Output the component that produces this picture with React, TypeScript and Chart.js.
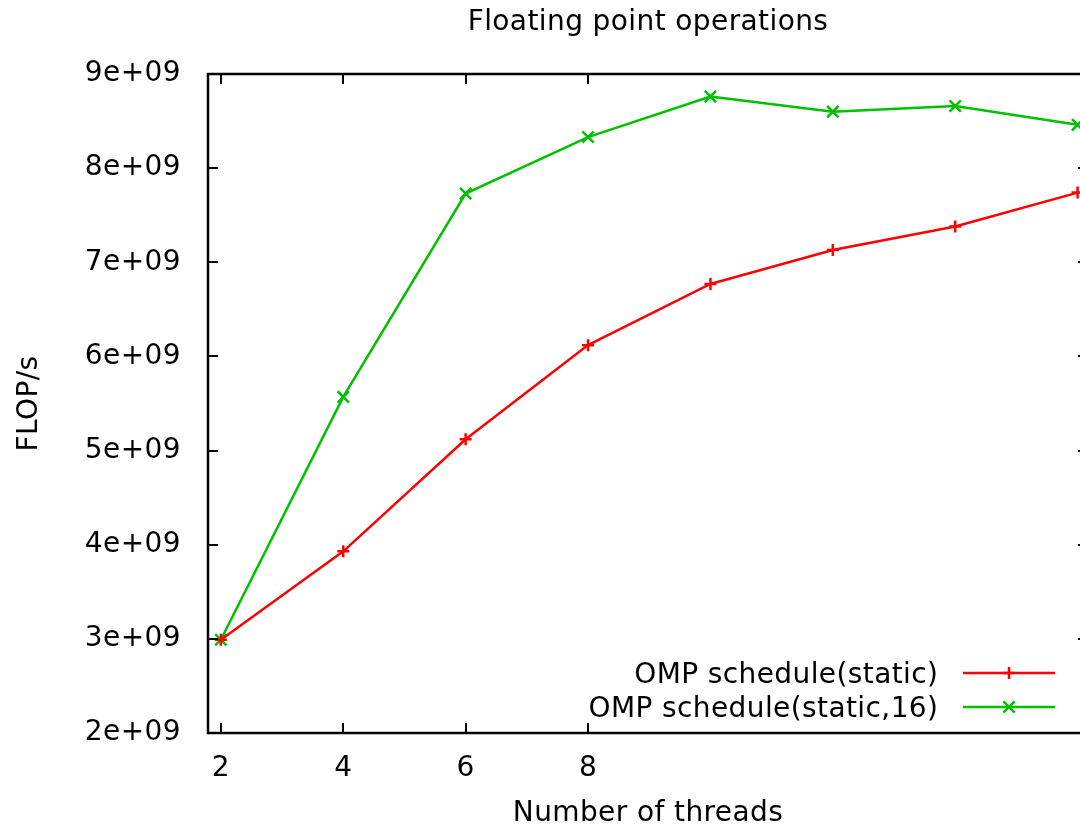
import React, { useEffect, useRef } from 'react';
import { Chart, registerables } from 'chart.js';

Chart.register(...registerables);

const threads = [2, 4, 6, 8, 10, 12, 14, 16];
const staticFlops = [2.99e9, 3.93e9, 5.12e9, 6.12e9, 6.77e9, 7.13e9, 7.38e9, 7.74e9];
const static16Flops = [2.99e9, 5.57e9, 7.73e9, 8.33e9, 8.76e9, 8.60e9, 8.66e9, 8.46e9];
const xTickValues = [2, 4, 6, 8];
const yTickValues = [2e9, 3e9, 4e9, 5e9, 6e9, 7e9, 8e9, 9e9];
const yTickLabels = ['2e+09', '3e+09', '4e+09', '5e+09', '6e+09', '7e+09', '8e+09', '9e+09'];
const seriesLabels = ['OMP schedule(static)', 'OMP schedule(static,16)'];
const seriesColors = ['#ff0000', '#00c000'];
const seriesPointStyles = ['cross', 'crossRot'];
const seriesPointRadius = [6, 8];

const FONT = '"DejaVu Sans", "Liberation Sans", sans-serif';
const FONT_SIZE = 28;
const SPACING = '0.4px';

const spacingPlugin = {
  id: 'spacing',
  beforeUpdate(chart: any) { chart.ctx.letterSpacing = SPACING; },
  beforeLayout(chart: any) { chart.ctx.letterSpacing = SPACING; },
  beforeDraw(chart: any) { chart.ctx.letterSpacing = SPACING; },
};

function drawMarker(ctx: CanvasRenderingContext2D, style: string, x: number, y: number, r: number) {
  ctx.beginPath();
  if (style === 'cross') {
    ctx.moveTo(x - r, y); ctx.lineTo(x + r, y);
    ctx.moveTo(x, y - r); ctx.lineTo(x, y + r);
  } else {
    const d = r * Math.SQRT1_2;
    ctx.moveTo(x - d, y - d); ctx.lineTo(x + d, y + d);
    ctx.moveTo(x - d, y + d); ctx.lineTo(x + d, y - d);
  }
  ctx.stroke();
}

const framePlugin = {
  id: 'frame',
  afterDatasetsDraw(chart: any) {
    const { ctx, chartArea: a, scales } = chart;
    ctx.save();
    ctx.strokeStyle = '#000';
    ctx.lineWidth = 2.5;
    ctx.strokeRect(a.left, a.top, a.right - a.left, a.bottom - a.top);
    ctx.beginPath();
    xTickValues.forEach((v) => {
      const px = Math.round(scales.x.getPixelForValue(v));
      ctx.moveTo(px, a.bottom); ctx.lineTo(px, a.bottom - 10);
      ctx.moveTo(px, a.top); ctx.lineTo(px, a.top + 10);
    });
    yTickValues.forEach((v) => {
      const py = Math.round(scales.y.getPixelForValue(v));
      ctx.moveTo(a.left, py); ctx.lineTo(a.left + 10, py);
      ctx.moveTo(a.right, py); ctx.lineTo(a.right - 10, py);
    });
    ctx.lineWidth = 2;
    ctx.stroke();
    ctx.restore();
  },
  afterDraw(chart: any) {
    const { ctx } = chart;
    ctx.save();
    ctx.letterSpacing = SPACING;
    ctx.font = `${FONT_SIZE}px ${FONT}`;
    ctx.textAlign = 'right';
    ctx.textBaseline = 'middle';
    chart.data.datasets.forEach((ds: any, i: number) => {
      const y = 673 + i * 34;
      ctx.fillStyle = '#000';
      ctx.fillText(ds.label, 938.4, y + 2.5);
      ctx.strokeStyle = ds.borderColor;
      ctx.lineWidth = 2.5;
      ctx.beginPath();
      ctx.moveTo(963, y); ctx.lineTo(1055, y);
      ctx.stroke();
      drawMarker(ctx, ds.pointStyle, 1009, y, ds.pointRadius);
    });
    ctx.restore();
  },
};

export default function App() {
  const ref = useRef<HTMLCanvasElement>(null);
  useEffect(() => {
    if (!ref.current) return;
    const seriesValues = [staticFlops, static16Flops];
    const font = { family: FONT, size: FONT_SIZE, weight: 'normal' as const };
    const chart = new Chart(ref.current, {
      type: 'line',
      data: {
        datasets: seriesValues.map((vals, i) => ({
          label: seriesLabels[i],
          data: threads.map((t, j) => ({ x: t, y: vals[j] })),
          borderColor: seriesColors[i],
          backgroundColor: seriesColors[i],
          borderWidth: 2.5,
          pointStyle: seriesPointStyles[i] as any,
          pointRadius: seriesPointRadius[i],
          pointBorderWidth: 2.5,
          pointBorderColor: seriesColors[i],
          tension: 0,
          fill: false,
        })),
      },
      options: {
        responsive: false,
        animation: false,
        devicePixelRatio: 1,
        layout: { padding: { left: 0, right: 12, top: 0, bottom: 0 } },
        plugins: {
          legend: { display: false },
          tooltip: { enabled: false },
          title: {
            display: true,
            text: 'Floating point operations',
            fullSize: false,
            color: '#000',
            font,
            padding: { top: 6.2, bottom: 34.2 },
          },
        },
        scales: {
          x: {
            type: 'linear',
            min: 1.79,
            max: 16.17,
            afterBuildTicks: (s: any) => { s.ticks = xTickValues.map((v) => ({ value: v })); },
            afterFit: (s: any) => { s.height = 94; },
            grid: { display: false, drawTicks: false },
            border: { display: false },
            ticks: {
              padding: 18.7,
              color: '#000',
              font,
              autoSkip: false,
              maxRotation: 0,
              callback: (v: any) => String(v),
            },
            title: {
              display: true,
              text: 'Number of threads',
              color: '#000',
              font,
              padding: { top: 0, bottom: -4 },
            },
          },
          y: {
            type: 'linear',
            min: 2e9,
            max: 9e9,
            afterBuildTicks: (s: any) => { s.ticks = yTickValues.map((v) => ({ value: v })); },
            afterFit: (s: any) => { s.width = 208; },
            grid: { display: false, drawTicks: false },
            border: { display: false },
            ticks: {
              padding: 27,
              color: '#000',
              font,
              autoSkip: false,
              callback: (_v: any, i: number) => yTickLabels[i],
            },
            title: {
              display: true,
              text: 'FLOP/s',
              color: '#000',
              font,
              padding: { top: 13.2, bottom: 0 },
            },
          },
        },
      },
      plugins: [spacingPlugin, framePlugin],
    });
    return () => chart.destroy();
  }, []);
  return (
    <div style={{ position: 'absolute', left: 0, top: 0, width: 1080, height: 827, overflow: 'hidden', background: '#fff' }}>
      <canvas ref={ref} width={1100} height={827} style={{ display: 'block', width: 1100, height: 827 }} />
    </div>
  );
}
